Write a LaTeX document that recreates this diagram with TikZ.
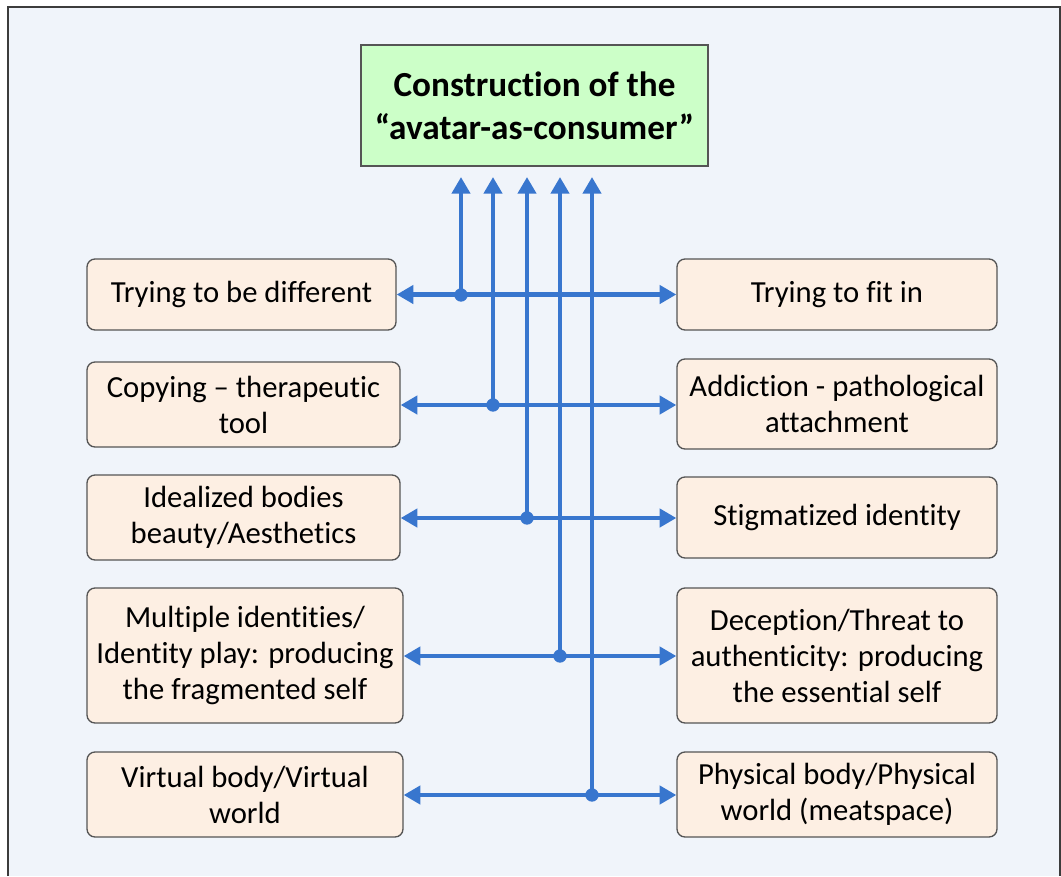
\documentclass[tikz,border=0pt]{standalone}
\usepackage{fontspec}
\setmainfont{Carlito}[Ligatures=NoCommon]
\usetikzlibrary{arrows.meta}
\definecolor{bgc}{RGB}{240,244,250}
\definecolor{framec}{RGB}{60,60,60}
\definecolor{peach}{RGB}{253,239,227}
\definecolor{boxline}{RGB}{85,85,85}
\definecolor{greenc}{RGB}{204,255,200}
\definecolor{bluec}{RGB}{56,118,206}
\begin{document}
\begin{tikzpicture}[x=0.75pt,y=-0.75pt,
  box/.style={draw=boxline, line width=1pt, fill=peach, rounded corners=6pt, align=center,
    font=\fontsize{23}{27}\selectfont, inner sep=0pt},
  titlebox/.style={draw=boxline, line width=1pt, fill=greenc, align=center,
    font=\fontsize{26.4}{32}\selectfont\bfseries, inner sep=0pt},
  link/.style={draw=bluec, line width=3.6pt, {Triangle[length=12.5pt,width=13.5pt]}-{Triangle[length=12.5pt,width=13.5pt]}},
  up/.style={draw=bluec, line width=3.6pt, -{Triangle[length=12.5pt,width=13.5pt]}},
  dot/.style={circle, fill=bluec, inner sep=0pt, minimum size=10pt}]
\useasboundingbox (0,0) rectangle (1061,876);
\fill[bgc] (8,7) rectangle (1060,876);
\draw[framec, line width=1.5pt] (8,876) -- (8,7) -- (1060,7) -- (1060,876);

\node[titlebox, minimum width=260.25pt, minimum height=90.75pt] (top) at (534.5,105.5)
  {Construction of the\\``avatar-as-consumer''};

\node[box, minimum width=231.75pt, minimum height=53.25pt] (L1) at (241.5,294.5) {Trying to be different};
\node[box, minimum width=234.75pt, minimum height=63.75pt] (L2) at (243.5,404.5) {Copying -- therapeutic\\tool};
\node[box, minimum width=234.75pt, minimum height=63.75pt] (L3) at (243.5,517.5) {Idealized bodies\\beauty/Aesthetics};
\node[box, minimum width=237pt, minimum height=101.25pt] (L4) at (245,655.5) {Multiple identities/\\Identity play: producing\\the fragmented self};
\node[box, minimum width=237pt, minimum height=63.75pt] (L5) at (245,794.5) {Virtual body/Virtual\\world};

\node[box, minimum width=240pt, minimum height=53.25pt] (R1) at (837,294.5) {Trying to fit in};
\node[box, minimum width=240pt, minimum height=67.5pt] (R2) at (837,404) {Addiction - pathological\\attachment};
\node[box, minimum width=240pt, minimum height=60.75pt] (R3) at (837,517.5) {Stigmatized identity};
\node[box, minimum width=240pt, minimum height=101.25pt] (R4) at (837,655.5) {Deception/Threat to\\authenticity: producing\\the essential self};
\node[box, minimum width=240pt, minimum height=63.75pt] (R5) at (837,794.5) {Physical body/Physical\\world (meatspace)};

\coordinate (t1) at (461,177);
\coordinate (t2) at (493,177);
\coordinate (t3) at (527,177);
\coordinate (t4) at (560,177);
\coordinate (t5) at (592,177);

\draw[link] (L1.east) -- (R1.west);
\draw[link] (L2.east |- 0,405) -- (R2.west |- 0,405);
\draw[link] (L3.east |- 0,518) -- (R3.west |- 0,518);
\draw[link] (L4.east |- 0,656) -- (R4.west |- 0,656);
\draw[link] (L5.east |- 0,795) -- (R5.west |- 0,795);

\node[dot] (j1) at (461,295) {};
\node[dot] (j2) at (493,405) {};
\node[dot] (j3) at (527,518) {};
\node[dot] (j4) at (560,656) {};
\node[dot] (j5) at (592,795) {};

\draw[up] (j1.center) -- (t1);
\draw[up] (j2.center) -- (t2);
\draw[up] (j3.center) -- (t3);
\draw[up] (j4.center) -- (t4);
\draw[up] (j5.center) -- (t5);
\end{tikzpicture}
\end{document}
